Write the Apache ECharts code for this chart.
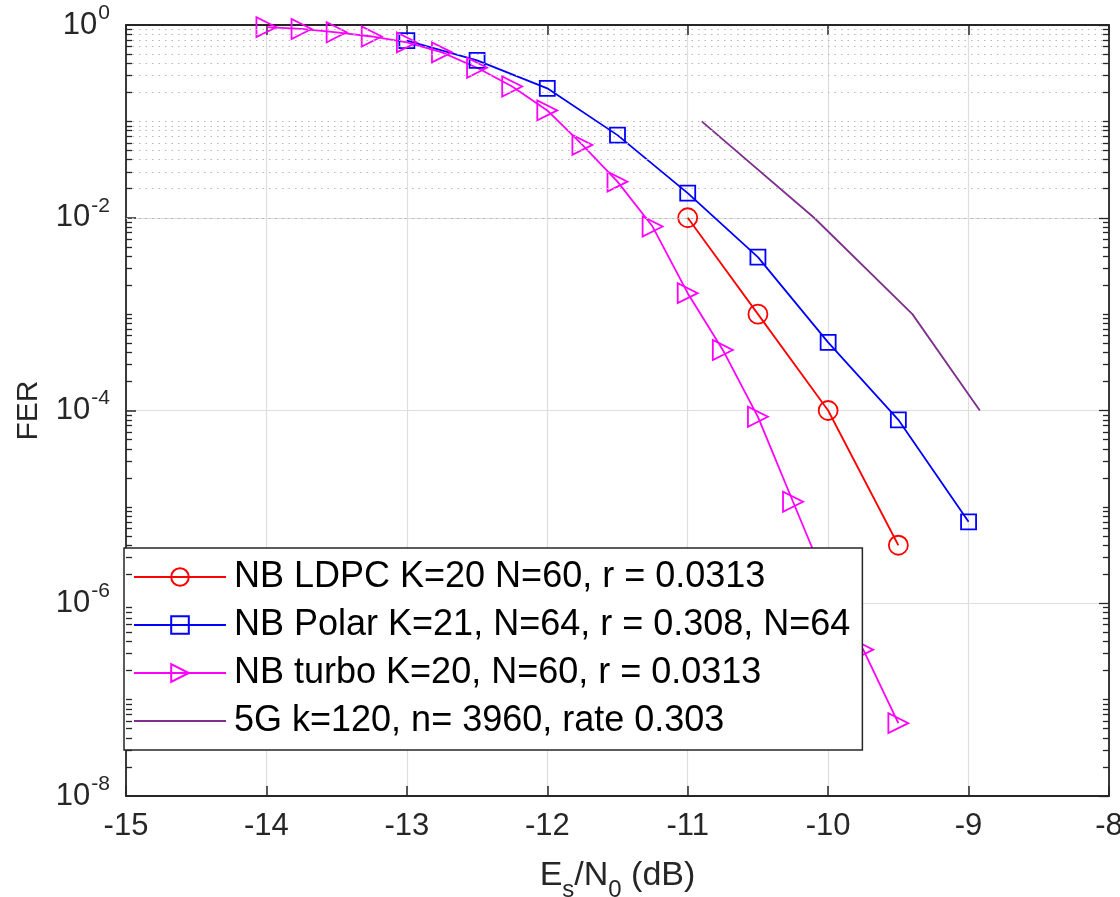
<!DOCTYPE html>
<html>
<head>
<meta charset="utf-8">
<script src="https://cdn.jsdelivr.net/npm/echarts@6/dist/echarts.min.js"></script>
<style>html,body{margin:0;padding:0;background:#fff}#c{width:1120px;height:897px}</style>
</head>
<body>
<div id="c"></div>
<script>
// ---- data ----
const ldpcName = 'NB LDPC K=20 N=60, r = 0.0313';
const ldpcX = [-11, -10.5, -10, -9.5];
const ldpcY = [0.01, 1.0e-3, 1.0e-4, 4.0e-6];

const polarName = 'NB Polar K=21, N=64, r = 0.308, N=64';
const polarX = [-13, -12.5, -12, -11.5, -11, -10.5, -10, -9.5, -9];
const polarY = [0.69, 0.43, 0.22, 0.072, 0.018, 0.0039, 5.1e-4, 8.0e-5, 7.0e-6];

const turboName = 'NB turbo K=20, N=60, r = 0.0313';
const turboX = [-14, -13.75, -13.5, -13.25, -13, -12.75, -12.5, -12.25, -12, -11.75, -11.5, -11.25, -11, -10.75, -10.5, -10.25, -10, -9.75, -9.5];
const turboY = [0.95, 0.91, 0.84, 0.76, 0.66, 0.52, 0.36, 0.23, 0.13, 0.057, 0.0237, 0.0081, 0.00165, 4.25e-4, 8.6e-5, 1.13e-5, 1.5e-6, 3.3e-7, 5.7e-8];

const g5Name = '5G k=120, n= 3960, rate 0.303';
const g5X = [-10.9, -10.1, -9.4, -8.92];
const g5Y = [0.1, 0.01, 1.0e-3, 1.0e-4];

const xMin = -15, xMax = -8, xStep = 1;
const yMin = 1e-8, yMax = 1;
const yMajorTicks = [1, 1e-2, 1e-4, 1e-6, 1e-8];
const yDecades = [-8, -7, -6, -5, -4, -3, -2, -1];
const yMinorMult = [1, 2, 3, 4, 5, 6, 7, 8, 9];

// minor (dotted) grid positions: every k*10^e, excluding labelled major decades
const minorTicks = [];
yDecades.forEach(e => yMinorMult.forEach(k => {
  if (k === 1 && e % 2 === 0) return;
  minorTicks.push(k * Math.pow(10, e));
}));

const pair = (xs, ys) => xs.map((x, i) => [x, ys[i]]);

const FONT = '"Liberation Sans", Arial, Helvetica, sans-serif';
const AX = '#262626';

const chart = echarts.init(document.getElementById('c'), null, {renderer: 'canvas'});

function mkSeries(name, xs, ys, color, symbol, size, rot) {
  return {
    name, type: 'line', data: pair(xs, ys),
    symbol: symbol || 'none', symbolSize: size || 0, symbolRotate: rot || 0,
    showSymbol: !!symbol, showAllSymbol: true,
    lineStyle: {color, width: 1.8},
    itemStyle: {color: 'rgba(255,255,255,0)', borderColor: color, borderWidth: 1.8},
    emphasis: {disabled: true}, z: 3, animation: false, clip: true
  };
}

const tickSeg = (v, from, to) => [{coord: [from, v]}, {coord: [to, v]}];

const option = {
  animation: false,
  backgroundColor: '#ffffff',
  textStyle: {fontFamily: FONT},
  grid: {left: 126, right: 11, top: 25, bottom: 101, containLabel: false, outerBoundsMode: 'none'},
  xAxis: [{
    type: 'value', min: xMin, max: xMax, interval: xStep,
    name: '{n|E}{sub|s}{n|/N}{sub|0}{n| (dB)}', nameLocation: 'middle', nameGap: 54,
    nameTextStyle: {rich: {
      n: {fontSize: 34, color: AX, fontFamily: FONT},
      sub: {fontSize: 24, color: AX, fontFamily: FONT, padding: [28, 0, 0, 0]}
    }},
    axisLine: {show: true, onZero: false, lineStyle: {color: AX, width: 1.8}},
    axisTick: {show: true, inside: true, length: 10, lineStyle: {color: AX, width: 1.5}},
    axisLabel: {fontSize: 31, color: AX, margin: 15, fontFamily: FONT},
    splitLine: {show: true, lineStyle: {color: '#dedede', width: 1.2}}
  }, {
    type: 'value', min: xMin, max: xMax, interval: xStep, position: 'top',
    axisLine: {show: true, onZero: false, lineStyle: {color: AX, width: 1.8}},
    axisTick: {show: true, inside: true, length: 10, lineStyle: {color: AX, width: 1.5}},
    axisLabel: {show: false}, splitLine: {show: false}
  }],
  yAxis: [{
    type: 'log', logBase: 10, min: yMin, max: yMax, interval: 2, splitNumber: 4,
    name: 'FER', nameLocation: 'middle', nameGap: 82, nameRotate: 90,
    nameTextStyle: {fontSize: 30, color: AX, fontFamily: FONT},
    axisLine: {show: true, onZero: false, lineStyle: {color: AX, width: 1.8}},
    axisTick: {show: true, inside: true, length: 10, lineStyle: {color: AX, width: 1.5}},
    axisLabel: {
      margin: 16, color: AX,
      formatter: v => '{b|10}{s|' + Math.round(Math.log10(v)) + '}',
      rich: {
        b: {fontSize: 31, color: AX, fontFamily: FONT},
        s: {fontSize: 21, color: AX, fontFamily: FONT, padding: [0, 0, 24, 1]}
      }
    },
    splitLine: {show: true, lineStyle: {color: '#dedede', width: 1.2}}
  }, {
    type: 'log', logBase: 10, min: yMin, max: yMax, interval: 2, splitNumber: 4, position: 'right',
    axisLine: {show: true, onZero: false, lineStyle: {color: AX, width: 1.8}},
    axisTick: {show: false},
    axisLabel: {show: false}, splitLine: {show: false}
  }],
  legend: {
    show: true, orient: 'vertical', left: 124, top: 548,
    data: [ldpcName, polarName, turboName,
      {name: g5Name, itemStyle: {color: 'rgba(0,0,0,0)', borderColor: 'rgba(0,0,0,0)', borderWidth: 0}}],
    backgroundColor: '#ffffff', borderColor: AX, borderWidth: 1.5, borderRadius: 0,
    padding: [11, 12, 11, 9], itemGap: 12, itemWidth: 92, itemHeight: 22,
    textStyle: {fontSize: 36, color: '#000', fontFamily: FONT, padding: [0, 0, 0, 3]},
    selectedMode: false
  },
  series: [
    {
      name: '_minorGrid', type: 'line', data: [], z: 1, silent: true,
      markLine: {
        silent: true, symbol: ['none', 'none'], label: {show: false}, animation: false,
        lineStyle: {type: [1.5, 5], color: '#b8b8b8', width: 1.1},
        emphasis: {disabled: true},
        data: minorTicks.map(v => ({yAxis: v}))
      }
    },
    {
      name: '_ticks', type: 'line', data: [], z: 4, silent: true,
      markLine: {
        silent: true, symbol: ['none', 'none'], label: {show: false}, animation: false,
        lineStyle: {type: 'solid', color: AX, width: 1.3},
        emphasis: {disabled: true},
        data: minorTicks.flatMap(v => [
          tickSeg(v, xMin, xMin + 0.043),
          tickSeg(v, xMax, xMax - 0.043)
        ]).concat(yMajorTicks.map(v => tickSeg(v, xMax, xMax - 0.071)))
      }
    },
    mkSeries(ldpcName, ldpcX, ldpcY, '#ff0000', 'circle', 19, 0),
    mkSeries(polarName, polarX, polarY, '#0000ff', 'rect', 15, 0),
    mkSeries(turboName, turboX, turboY, '#ff00ff', 'triangle', 20, -90),
    mkSeries(g5Name, g5X, g5Y, '#7e2f8e', null, 0, 0)
  ]
};
chart.setOption(option);
</script>
</body>
</html>
